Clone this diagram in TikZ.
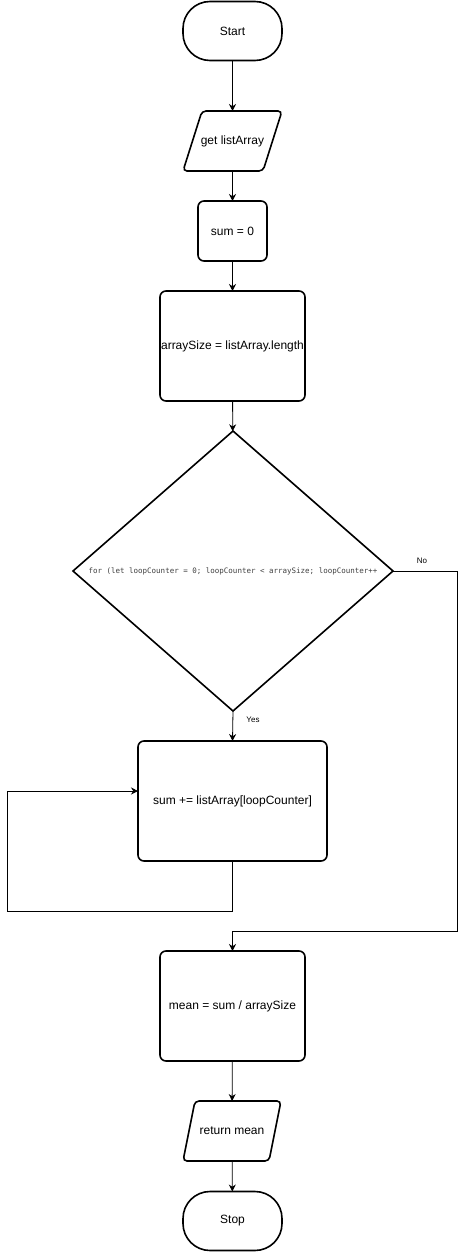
\documentclass[tikz,border=0pt]{standalone}
\usepackage{fontspec}
\setmainfont{Liberation Sans}
\newfontfamily\codefont{DejaVu Sans Mono}
\usetikzlibrary{shapes.geometric,arrows.meta}
\tikzset{
  x=1pt,y=-1pt,
  txt/.style={font=\fontsize{12}{14}\selectfont},
  box/.style={draw,line width=1.6pt,rounded corners=6pt,inner sep=0pt,outer sep=0pt,txt},
  term/.style={draw,line width=1.6pt,rounded corners=27pt,inner sep=0pt,outer sep=0pt,minimum width=99pt,minimum height=59pt,txt},
  parabox/.style={inner sep=0pt,outer sep=0pt,minimum height=60pt,txt},
  paraline/.style={line width=1.6pt,rounded corners=4pt},
  conn/.style={line width=0.8pt,-{Stealth[length=7pt,width=7pt]}},
  lbl/.style={font=\fontsize{8}{9}\selectfont,inner sep=0pt},
}
\begin{document}
\begin{tikzpicture}
\useasboundingbox (0,0) rectangle (466,1252);
\node[term] (start) at (232.5,31) {Start};
\node[parabox,minimum width=99pt] (get) at (232.5,141) {get listArray};
\draw[paraline] ([xshift=19pt]get.north west) -- (get.north east) -- ([xshift=-19pt]get.south east) -- (get.south west) -- cycle;
\node[box,minimum width=69pt,minimum height=60pt] (sum0) at (232.5,231) {sum = 0};
\node[box,minimum width=145pt,minimum height=110pt] (size) at (232.5,346) {arraySize = listArray.length};
\node[diamond,draw,line width=1.6pt,inner sep=0pt,outer sep=0pt,minimum width=320pt,minimum height=280pt,
  label={[text=black!75,font=\codefont\fontsize{7.5}{9}\selectfont]center:for (let loopCounter = 0; loopCounter < arraySize; loopCounter++}] (dec) at (233,571) {};
\node[box,minimum width=189pt,minimum height=120pt] (add) at (232.5,801) {sum += listArray[loopCounter]};
\node[box,minimum width=145pt,minimum height=110pt] (mean) at (232.5,1006) {mean = sum / arraySize};
\node[parabox,minimum width=98pt] (ret) at (232,1131) {return mean};
\draw[paraline] ([xshift=12pt]ret.north west) -- (ret.north east) -- ([xshift=-12pt]ret.south east) -- (ret.south west) -- cycle;
\node[term] (stop) at (232.5,1221) {Stop};

\coordinate (lb) at (7,911);
\coordinate (nr) at (457,931);

\draw[conn] (start) -- (get);
\draw[conn] (get) -- (sum0);
\draw[conn] (sum0) -- (size);
\draw[conn] (size) -- (dec);
\draw[conn] (dec.south) -- (add.north);
\node[lbl] (yes) at (253,720) {Yes};
\draw[conn] (add.south) -- (add.south |- lb) -- (lb) |- ([yshift=10pt]add.west);
\draw[conn] (dec.east) -| (nr) -| (mean.north);
\node[lbl] (no) at (422,561) {No};
\draw[conn] (mean) -- (ret);
\draw[conn] (ret) -- (stop);
\end{tikzpicture}
\end{document}
